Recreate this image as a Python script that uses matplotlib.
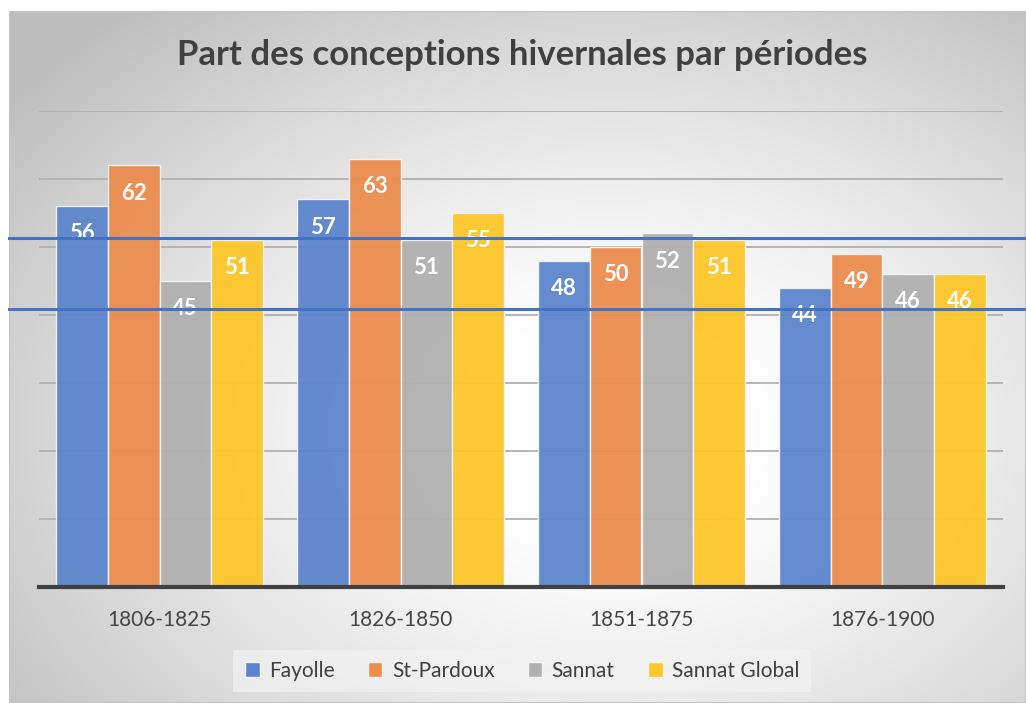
import numpy as np
import matplotlib
matplotlib.use("Agg")
import matplotlib.pyplot as plt
from matplotlib.patches import Patch, Rectangle
from matplotlib.transforms import blended_transform_factory

plt.rcParams['font.family'] = ['Lato', 'DejaVu Sans']

# ---- data ----
periods = ["1806-1825", "1826-1850", "1851-1875", "1876-1900"]
series_names = ["Fayolle", "St-Pardoux", "Sannat", "Sannat Global"]
fayolle = [56, 57, 48, 44]
st_pardoux = [62, 63, 50, 49]
sannat = [45, 51, 52, 46]
sannat_global = [51, 55, 51, 46]
ref_lines = [51.3, 40.9]
title = "Part des conceptions hivernales par périodes"

colors = ["#5B85CC", "#EC8D4E", "#B0B0B0", "#FDC72A"]
W, H = 1026, 703
fig = plt.figure(figsize=(W / 100, H / 100), dpi=100)
fig.patch.set_facecolor("white")

# background panel with radial gradient
px0, py0, px1, py1 = 9, 11, 1026, 703
bg = fig.add_axes([px0 / W, 1 - py1 / H, (px1 - px0) / W, (py1 - py0) / H])
yy, xx = np.mgrid[py0:py1, px0:px1]
d = np.sqrt(((xx - 610) / 600.0) ** 2 + ((yy - 430) / 430.0) ** 2)
drop = np.clip(60 * np.clip(d - 0.2, 0, None) ** 1.3, 0, 66)
val = (255 - drop) / 255.0
img = np.dstack([val, val, val])
bg.imshow(img, aspect="auto", extent=[0, 1, 0, 1], origin="upper")
bg.set_xlim(0, 1); bg.set_ylim(0, 1)
bg.axis("off")
bg.add_patch(Rectangle((0, 0), 1, 1, fill=False, edgecolor="#c4c4c4", lw=1.5,
                       transform=bg.transAxes))

# main axes
ax = fig.add_axes([39 / W, 1 - 587 / H, 964 / W, (587 - 111) / H])
ax.patch.set_alpha(0)
ax.set_ylim(0, 70)
ax.set_xlim(-0.5, 3.5)
ax.set_yticks(np.arange(10, 71, 10))
ax.yaxis.grid(True, color="#b0b0b0", lw=1.3, zorder=0)
ax.set_axisbelow(True)
for s in ["top", "right", "left"]:
    ax.spines[s].set_visible(False)
ax.spines["bottom"].set_color("#404040")
ax.spines["bottom"].set_linewidth(3)
ax.tick_params(axis="y", left=False, labelleft=False)
ax.tick_params(axis="x", bottom=False, labelsize=15, labelcolor="#454545", pad=13)

x = np.arange(len(periods))
bw = 0.214
all_series = [fayolle, st_pardoux, sannat, sannat_global]
for i, (vals, c, name) in enumerate(zip(all_series, colors, series_names)):
    pos = x + (i - 1.5) * bw
    bars = ax.bar(pos, vals, width=bw, color=c, edgecolor="#f4f4f4", lw=1.0,
                  alpha=0.95, zorder=2, label=name)
    for b, v in zip(bars, vals):
        ax.annotate(str(v), (b.get_x() + b.get_width() / 2, v), xytext=(0, -20),
                    textcoords="offset points", ha="center", va="center",
                    color="white", fontsize=16, fontweight="bold", zorder=4)

ax.set_xticks(x)
ax.set_xticklabels(periods)

# horizontal reference lines spanning the whole panel
tr = blended_transform_factory(fig.transFigure, ax.transData)
for yv in ref_lines:
    ax.plot([px0 / W, 1.0], [yv, yv], transform=tr, color="#4472C4", lw=2.2,
            clip_on=False, zorder=5)

fig.text(0.509, 1 - 55 / H, title, ha="center", va="center", fontsize=25,
         fontweight="bold", color="#404040")

handles = [Patch(facecolor=c, edgecolor="#f4f4f4", label=n) for c, n in zip(colors, series_names)]
leg = fig.legend(handles=handles, loc="center", bbox_to_anchor=(0.509, 1 - 671 / H),
                 ncol=4, frameon=True, fontsize=15, handlelength=0.7, handleheight=0.7,
                 handletextpad=0.45, columnspacing=1.6, borderpad=0.55, fancybox=False)
leg.get_frame().set_facecolor("#f2f2f2")
leg.get_frame().set_alpha(0.7)
leg.get_frame().set_edgecolor("none")
for t in leg.get_texts():
    t.set_color("#404040")

fig.savefig("out.png", dpi=100)
